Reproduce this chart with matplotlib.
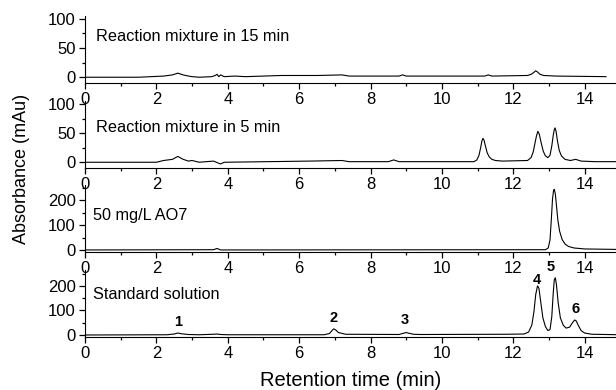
import numpy as np
import matplotlib.pyplot as plt
from matplotlib.ticker import MultipleLocator

plt.rcParams['font.family'] = ['Liberation Sans', 'DejaVu Sans']

# chromatograms: retention time (min) / absorbance (mAu)
t_15min = [0, 1.5, 2.2, 2.45, 2.6, 2.75, 2.9, 3.0, 3.2, 3.55, 3.65, 3.7, 3.75, 3.8, 3.9,
           4.2, 4.5, 5.5, 6.5, 7.2, 7.4, 8.8, 8.9, 9.0, 11.2, 11.3, 11.4, 12.4, 12.5,
           12.57, 12.63, 12.68, 12.75, 12.85, 13.2, 14.6]
a_15min = [0, 0, 2, 4, 7, 4, 2, 1, 0, 1, 3, 5, 1, 4, 1,
           2, 1, 3, 3, 4, 2, 2, 4, 2, 2, 4, 2, 3, 5,
           8, 11, 9, 5, 3, 2, 1]

t_5min = [0, 2.0, 2.2, 2.45, 2.6, 2.75, 2.9, 3.0, 3.2, 3.6, 3.8, 3.9, 6.3, 7.2, 7.4,
          8.5, 8.65, 8.8, 10.9, 10.98, 11.04, 11.09, 11.12, 11.15, 11.18, 11.22, 11.27,
          11.33, 11.4, 11.5, 11.7, 12.4, 12.5, 12.56, 12.61, 12.65, 12.69, 12.73, 12.78,
          12.84, 12.9, 12.97, 13.03, 13.08, 13.12, 13.15, 13.17, 13.2, 13.24, 13.29,
          13.35, 13.45, 13.6, 13.75, 13.9, 14.3, 15]
a_5min = [0, 0, 3, 5, 10, 5, 2, 3, 0, 2, -3, 0, 2, 3, 1,
          1, 4, 1, 1, 4, 12, 26, 36, 41, 38, 28, 16,
          9, 5, 3, 2, 3, 8, 18, 33, 45, 53, 48, 34,
          19, 11, 8, 12, 28, 46, 56, 59, 53, 36, 20,
          11, 5, 3, 5, 2, 1, 1]

t_ao7 = [0, 3.6, 3.7, 3.8, 12.9, 12.98, 13.03, 13.07, 13.1, 13.13, 13.15, 13.18, 13.21,
         13.25, 13.3, 13.37, 13.45, 13.55, 13.7, 14.0, 15]
a_ao7 = [0, 1, 6, 0, 1, 8, 40, 130, 205, 240, 244, 225, 180,
         120, 75, 42, 24, 14, 8, 4, 2]

t_std = [0, 2.3, 2.5, 2.6, 2.7, 2.9, 3.2, 3.6, 3.7, 3.8, 4.0, 6.7, 6.85, 6.92, 6.97,
         7.03, 7.1, 7.3, 8.8, 8.92, 9.0, 9.08, 9.2, 9.4, 11.8, 12.3, 12.43, 12.52,
         12.58, 12.63, 12.68, 12.72, 12.77, 12.83, 12.9, 12.97, 13.03, 13.08, 13.12,
         13.15, 13.18, 13.21, 13.26, 13.32, 13.4, 13.48, 13.58, 13.66, 13.72, 13.76,
         13.82, 13.9, 14.0, 14.2, 14.6, 15]
a_std = [0, 1, 4, 8, 5, 2, 1, 3, 4, 2, 1, 1, 6, 18, 25,
         20, 10, 3, 2, 7, 10, 7, 3, 2, 3, 4, 12, 40,
         95, 165, 200, 190, 135, 70, 35, 18, 22, 75, 170,
         225, 233, 205, 130, 70, 40, 28, 32, 50, 61, 58,
         40, 18, 8, 3, 2, 1]

peak_ids = ['1', '2', '3', '4', '5', '6']
peak_t = [2.6, 6.97, 8.96, 12.66, 13.05, 13.75]
peak_lbl_y = [53, 69, 61, 224, 277, 106]

# title, x, y, ylim, y ticks, axes bottom, title x/y (axes fraction)
panels = [
    ('Reaction mixture in 15 min', t_15min, a_15min, (-10, 105), [0, 50, 100], 0.787, 0.02, 0.70),
    ('Reaction mixture in 5 min', t_5min, a_5min, (-10, 105), [0, 50, 100], 0.569, 0.02, 0.60),
    ('50 mg/L AO7', t_ao7, a_ao7, (-8, 262), [0, 100, 200], 0.354, 0.015, 0.55),
    ('Standard solution', t_std, a_std, (-8, 265), [0, 100, 200], 0.136, 0.015, 0.64),
]

fig = plt.figure(figsize=(6.16, 3.9), dpi=100)
axes = []
for title, t, a, ylim, yt, bottom, tx, ty in panels:
    ax = fig.add_axes([0.138, bottom, 0.869, 0.172])
    ax.patch.set_alpha(0)
    ax.plot(t, a, color='black', lw=0.8)
    ax.set_xlim(0, 15)
    ax.set_ylim(*ylim)
    ax.set_xticks([0, 2, 4, 6, 8, 10, 12, 14])
    ax.xaxis.set_minor_locator(MultipleLocator(1))
    ax.set_yticks(yt)
    ax.yaxis.set_minor_locator(MultipleLocator(yt[1] / 2))
    for s in ['top', 'right']:
        ax.spines[s].set_visible(False)
    ax.tick_params(which='major', length=4.5, width=0.9, labelsize=12, pad=2)
    ax.tick_params(which='minor', length=2.5, width=0.9)
    ax.text(tx, ty, title, transform=ax.transAxes, fontsize=11.7, va='center')
    axes.append(ax)

for lbl, x, y in zip(peak_ids, peak_t, peak_lbl_y):
    axes[3].text(x, y, lbl, ha='center', va='center', fontsize=10.5, fontweight='bold')

fig.text(0.035, 0.567, 'Absorbance (mAu)', rotation=90, ha='center', va='center', fontsize=13)
fig.text(0.57, 0.025, 'Retention time (min)', ha='center', va='center', fontsize=14.5)

fig.savefig('out.png', dpi=100)
